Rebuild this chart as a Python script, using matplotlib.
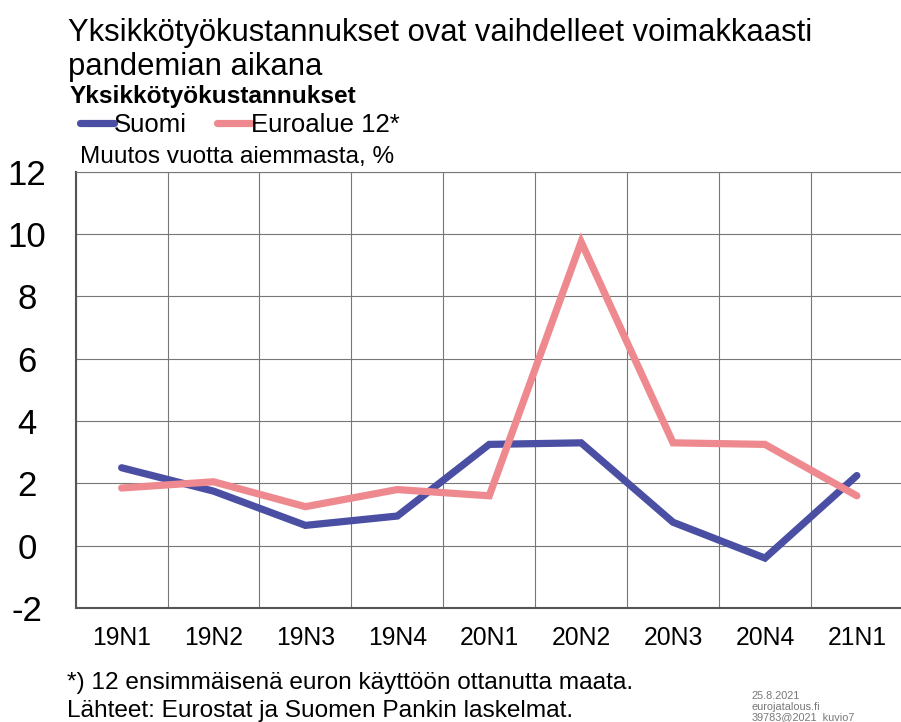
import matplotlib
matplotlib.use("Agg")
import matplotlib.pyplot as plt
import numpy as np

categories = ["19N1", "19N2", "19N3", "19N4", "20N1", "20N2", "20N3", "20N4", "21N1"]
suomi = [2.5, 1.75, 0.65, 0.95, 3.25, 3.3, 0.75, -0.4, 2.25]
euroalue = [1.85, 2.05, 1.25, 1.8, 1.6, 9.75, 3.3, 3.25, 1.6]
yticks = [-2, 0, 2, 4, 6, 8, 10, 12]

plt.rcParams['font.family'] = ['Liberation Sans', 'DejaVu Sans']

fig = plt.figure(figsize=(9.01, 7.22), dpi=100)
ax = fig.add_axes([0.084, 0.158, 0.918, 0.604])

x = np.arange(len(categories))
ax.plot(x, suomi, color="#4A4FA3", lw=5.2, solid_capstyle="round", solid_joinstyle="miter", label="Suomi", zorder=3)
ax.plot(x, euroalue, color="#EE8A8F", lw=5.2, solid_capstyle="round", solid_joinstyle="miter", label="Euroalue 12*", zorder=3)

ax.set_xlim(-0.5, len(categories) - 0.5)
ax.set_ylim(-2, 12)
ax.set_yticks(yticks)
ax.set_yticklabels([str(v) for v in yticks], fontsize=25)
ax.set_xticks(x)
ax.set_xticklabels(categories, fontsize=17.8)
ax.set_xticks(np.arange(len(categories) + 1) - 0.5, minor=True)
ax.grid(True, which="minor", axis="x", color="#777777", lw=0.8)
ax.grid(True, which="major", axis="y", color="#777777", lw=0.8)
ax.tick_params(axis="both", which="both", length=0)
ax.tick_params(axis="y", pad=35)
ax.tick_params(axis="x", pad=13)
for lab in ax.get_yticklabels():
    lab.set_horizontalalignment("center")
for s in ["left", "bottom"]:
    ax.spines[s].set_color("#555555")
    ax.spines[s].set_linewidth(1.5)
for s in ["top", "right"]:
    ax.spines[s].set_color("#777777")
    ax.spines[s].set_linewidth(0.8)

fig.text(0.075, 0.975, "Yksikkötyökustannukset ovat vaihdelleet voimakkaasti\npandemian aikana",
         fontsize=22.3, va="top", ha="left", linespacing=1.15)
fig.text(0.077, 0.866, "Yksikkötyökustannukset", fontsize=17.6, fontweight="bold", va="center", ha="left")
fig.legend(loc="center left", bbox_to_anchor=(0.089, 0.827), ncol=2, frameon=False,
           fontsize=18.5, handlelength=1.3, handletextpad=0.0, columnspacing=1.2, borderaxespad=0,
           borderpad=0)
fig.text(0.089, 0.782, "Muutos vuotta aiemmasta, %", fontsize=17.6, va="center", ha="left")

fig.text(0.074, 0.054, "*) 12 ensimmäisenä euron käyttöön ottanutta maata.", fontsize=17.6, va="center", ha="left")
fig.text(0.074, 0.015, "Lähteet: Eurostat ja Suomen Pankin laskelmat.", fontsize=17.6, va="center", ha="left")
fig.text(0.834, 0.0, "25.8.2021\neurojatalous.fi\n39783@2021_kuvio7", fontsize=7.8, color="#777777",
         va="bottom", ha="left", linespacing=1.05)

fig.savefig("out.png", dpi=100)
